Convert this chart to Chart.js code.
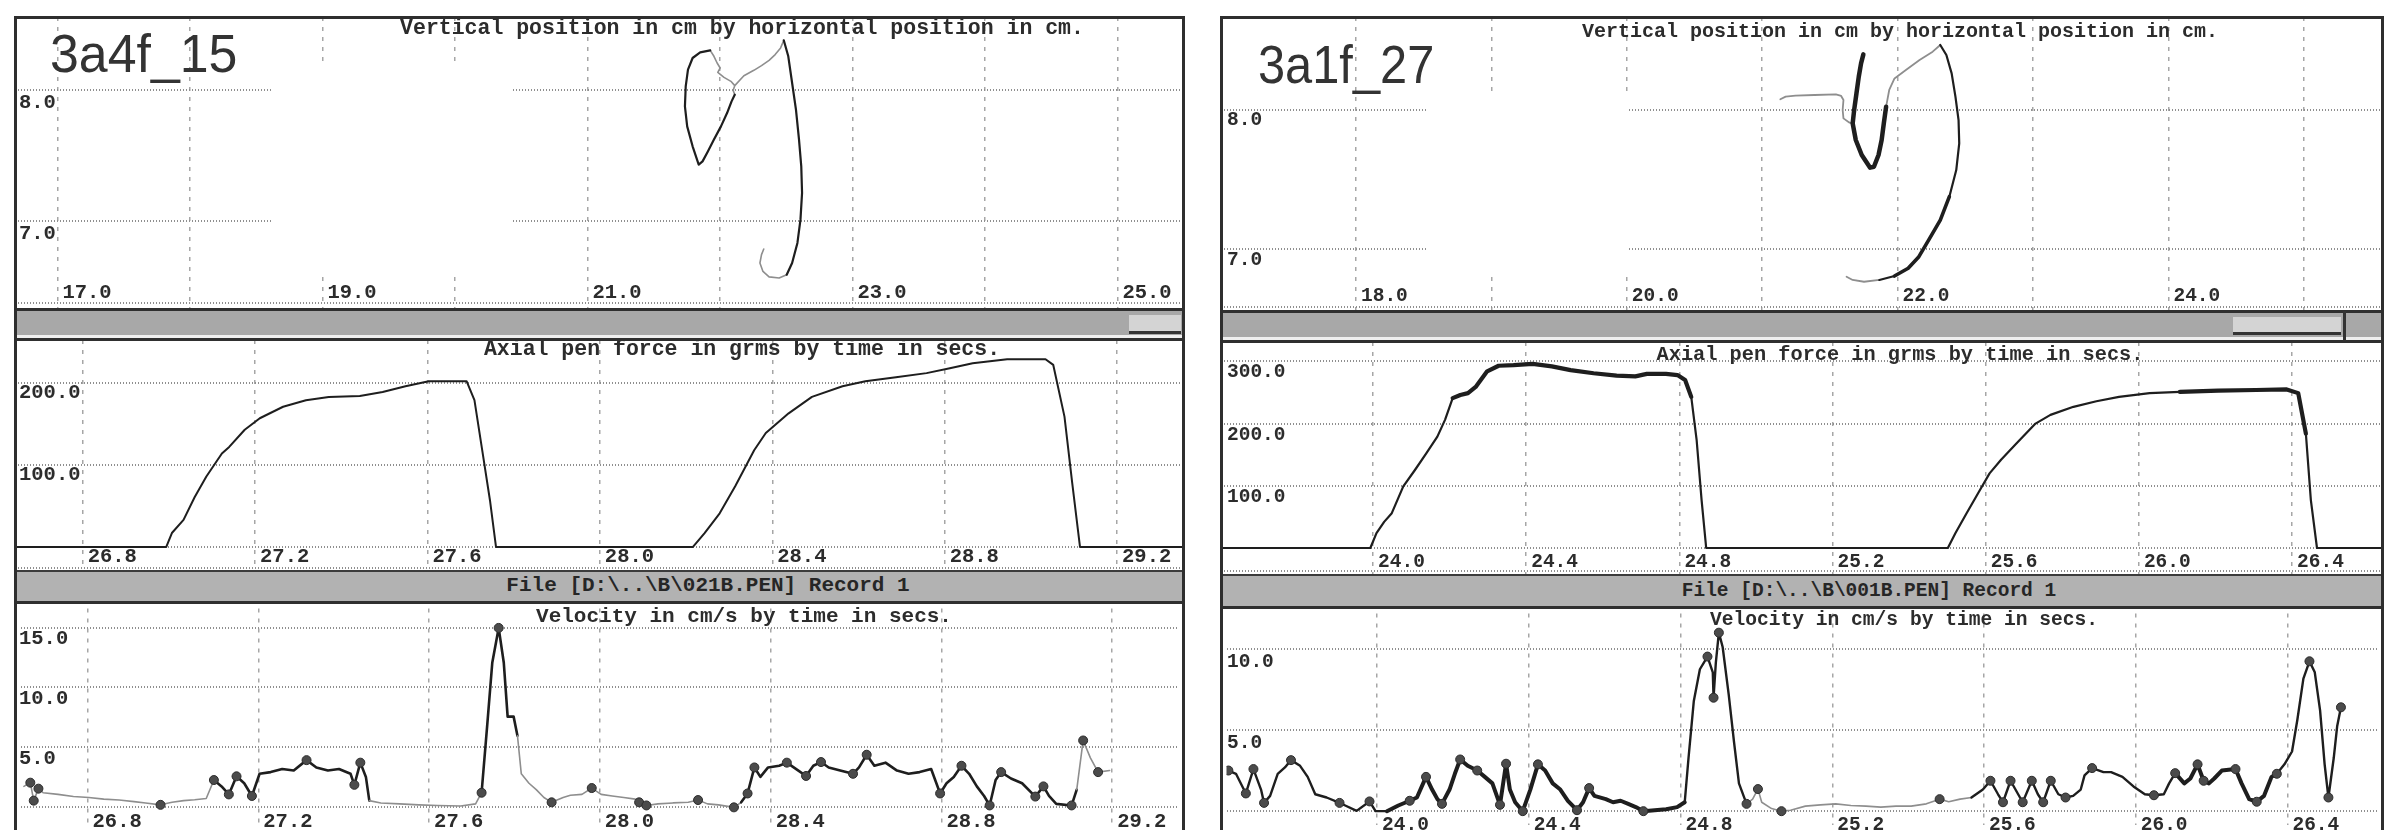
<!DOCTYPE html>
<html>
<head>
<meta charset="utf-8">
<title>Pen trace records 3a4f_15 / 3a1f_27</title>
<script src="https://cdn.jsdelivr.net/npm/chart.js@4.4.1/dist/chart.umd.min.js"></script>
<style>
  html, body { margin: 0; padding: 0; background: #fff; }
  body { position: relative; width: 2384px; height: 830px; overflow: hidden; }
  canvas, .frame, .band, .bar, .thumb, .stop { position: absolute; }
  .frame { box-sizing: border-box; border: 3px solid #2e2e2e; border-bottom: none; z-index: 4; }
  .band { box-sizing: border-box; background: #a8a8a8; border-top: 3px solid #2f2f2f; border-bottom: 3px solid #2f2f2f;
          box-shadow: inset 0 -3px 0 #efefef; z-index: 3; }
  .thumb { box-sizing: border-box; background: #d4d4d4; border-bottom: 3px solid #333; z-index: 3; }
  .stop { background: #333; width: 3px; z-index: 3; }
  .bar { box-sizing: border-box; background: #b2b2b2; border-top: 2px solid #3c3c3c; border-bottom: 3px solid #2f2f2f;
         color: #262626; font-weight: bold; font-family: "Liberation Mono", monospace; white-space: pre; z-index: 3; }
  .bar span { position: absolute; transform: translateX(-50%); }
</style>
</head>
<body>

<canvas id="posL" width="1168" height="292" style="left:15px;top:17px"></canvas>
<div class="band" style="left:14px;top:308px;width:1171px;height:33px"></div>
<div class="thumb" style="left:1129px;top:315px;width:52px;height:19px"></div>
<canvas id="forceL" width="1168" height="231" style="left:15px;top:340px"></canvas>
<div class="bar" style="left:14px;top:570px;width:1171px;height:34px;font-size:21px;line-height:28px"><span style="left:694px">File [D:\..\B\021B.PEN] Record 1</span></div>
<canvas id="velL" width="1168" height="227" style="left:15px;top:603px"></canvas>
<div class="frame" style="left:14px;top:16px;width:1171px;height:814px"></div>

<canvas id="posR" width="1163" height="294" style="left:1221px;top:17px"></canvas>
<div class="band" style="left:1220px;top:310px;width:1164px;height:33px"></div>
<div class="thumb" style="left:2233px;top:317px;width:108px;height:18px"></div>
<div class="stop" style="left:2343px;top:311px;height:30px"></div>
<canvas id="forceR" width="1163" height="232" style="left:1221px;top:342px"></canvas>
<div class="bar" style="left:1220px;top:574px;width:1164px;height:35px;font-size:19.5px;line-height:30px"><span style="left:649px">File [D:\..\B\001B.PEN] Record 1</span></div>
<canvas id="velR" width="1163" height="222" style="left:1221px;top:608px"></canvas>
<div class="frame" style="left:1220px;top:16px;width:1164px;height:814px"></div>

<script>
// ---- record 3a4f_15 (left) ----
// pen position, cm (null breaks a stroke)
const posInkXL = [21.927, 21.851, 21.794, 21.759, 21.742, 21.736, 21.753, 21.794, 21.840, 21.869, 21.909, 21.955, 22.008, 22.054, 22.088, 22.112,
                  null, 22.482, 22.516, 22.545, 22.574, 22.597, 22.614, 22.620, 22.608, 22.585, 22.545, 22.504];
const posInkYL = [8.305, 8.290, 8.247, 8.158, 8.031, 7.878, 7.725, 7.573, 7.433, 7.458, 7.534, 7.624, 7.725, 7.827, 7.916, 7.967,
                  null, 8.382, 8.260, 8.056, 7.853, 7.624, 7.420, 7.217, 7.013, 6.835, 6.682, 6.593];
const posAirXL = [21.927, 21.955, 21.979, 22.002, 21.984, 22.031, 22.083, 22.112, 22.100, 22.112,
                  null, 22.112, 22.181, 22.256, 22.314, 22.371, 22.417, 22.458, 22.482,
                  null, 22.504, 22.447, 22.371, 22.325, 22.302, 22.314, 22.331];
const posAirYL = [8.305, 8.260, 8.209, 8.171, 8.137, 8.099, 8.069, 8.036, 8.000, 7.967,
                  null, 8.036, 8.112, 8.153, 8.189, 8.229, 8.273, 8.324, 8.382,
                  null, 6.593, 6.568, 6.576, 6.618, 6.682, 6.746, 6.789];

// axial pen force, grams by seconds
const forceTL = [26.64, 26.994, 27.007, 27.034, 27.060, 27.087, 27.123, 27.140, 27.176, 27.211, 27.265, 27.318, 27.371, 27.443, 27.496,
                 27.549, 27.603, 27.691, 27.709, 27.727, 27.745, 27.759, 28.216, 28.243, 28.278, 28.314, 28.358, 28.385, 28.438, 28.492,
                 28.563, 28.616, 28.687, 28.758, 28.812, 28.865, 28.945, 29.034, 29.052, 29.078, 29.096, 29.114, 29.36];
const forceVL = [0, 0, 17, 33, 61, 86, 114, 122, 143, 157, 171, 179, 183, 184, 189,
                 196, 202, 202, 179, 118, 57, 0, 0, 17, 41, 74, 118, 139, 163, 183,
                 196, 202, 207, 212, 218, 224, 229, 229, 222, 159, 78, 0, 0];

// velocity, cm/s by seconds
const velTL = [26.651, 26.666, 26.674, 26.685, 26.696, 26.731, 26.767, 26.803, 26.838, 26.874,
               26.909, 26.936, 26.971, 26.998, 27.025, 27.051, 27.078, 27.096, 27.114, 27.131,
               27.149, 27.167, 27.185, 27.203, 27.229, 27.256, 27.283, 27.313, 27.336, 27.363,
               27.389, 27.416, 27.425, 27.439, 27.452, 27.460, 27.487, 27.531, 27.576, 27.620,
               27.674, 27.709, 27.723, 27.736, 27.748, 27.763, 27.775, 27.784, 27.798, 27.807,
               27.816, 27.834, 27.851, 27.869, 27.887, 27.914, 27.931, 27.958, 27.981, 28.003,
               28.029, 28.056, 28.083, 28.092, 28.109, 28.136, 28.171, 28.207, 28.230, 28.252,
               28.278, 28.314, 28.331, 28.346, 28.362, 28.376, 28.394, 28.420, 28.438, 28.465,
               28.483, 28.500, 28.518, 28.536, 28.563, 28.593, 28.607, 28.625, 28.643, 28.669,
               28.696, 28.723, 28.749, 28.776, 28.797, 28.812, 28.829, 28.847, 28.865, 28.883,
               28.900, 28.913, 28.927, 28.940, 28.963, 28.989, 29.020, 29.039, 29.052, 29.069,
               29.105, 29.117, 29.132, 29.149, 29.167, 29.194];
const velVL = [1.75, 2.06, 0.56, 1.56, 1.22, 1.08, 0.90, 0.82, 0.69, 0.61,
               0.48, 0.37, 0.21, 0.42, 0.56, 0.63, 0.74, 2.28, 1.75, 1.08,
               2.59, 2.01, 0.95, 2.80, 2.94, 3.20, 3.07, 3.94, 3.33, 3.07,
               3.20, 2.80, 1.88, 3.73, 2.54, 0.56, 0.37, 0.29, 0.21, 0.16,
               0.11, 0.29, 1.22, 6.77, 12.06, 14.97, 12.06, 7.57, 7.57, 5.98,
               2.80, 2.01, 1.48, 0.82, 0.42, 0.82, 1.01, 1.08, 1.61, 1.08,
               0.95, 0.82, 0.69, 0.42, 0.16, 0.29, 0.37, 0.42, 0.61, 0.29,
               0.21, 0.00, 0.42, 1.16, 3.33, 2.54, 3.33, 3.47, 3.73, 3.07,
               2.62, 3.47, 3.78, 3.33, 3.07, 2.80, 3.33, 4.39, 3.47, 3.73,
               3.07, 2.80, 2.94, 3.20, 1.16, 2.01, 2.54, 3.47, 2.80, 1.75,
               0.95, 0.16, 2.28, 2.94, 2.41, 2.01, 0.90, 1.75, 0.95, 0.29,
               0.16, 1.48, 5.58, 4.13, 2.94, 3.07];
// velocity samples marked with a dot
const velMarkTL = [26.666, 26.674, 26.685, 26.971, 27.096, 27.131, 27.149, 27.185, 27.313, 27.425, 27.439, 27.723,
                   27.763, 27.887, 27.981, 28.092, 28.109, 28.230, 28.314, 28.346, 28.362, 28.438, 28.483, 28.518,
                   28.593, 28.625, 28.797, 28.847, 28.913, 28.940, 29.020, 29.039, 29.105, 29.132, 29.167];
const velMarkVL = [2.06, 0.56, 1.56, 0.21, 2.28, 1.08, 2.59, 0.95, 3.94, 1.88, 3.73, 1.22,
                   14.97, 0.42, 1.61, 0.42, 0.16, 0.61, 0.00, 1.16, 3.33, 3.73, 2.62, 3.78,
                   2.80, 4.39, 1.16, 3.47, 0.16, 2.94, 0.90, 1.75, 0.16, 5.58, 2.94];

// ---- record 3a1f_27 (right) ----
const posBoldXR = [21.747, 21.730, 21.713, 21.696, 21.679, 21.668, 21.691, 21.735, 21.797, 21.825, 21.859, 21.882, 21.898, 21.915];
const posBoldYR = [8.400, 8.335, 8.239, 8.120, 8.000, 7.904, 7.785, 7.677, 7.586, 7.593, 7.677, 7.785, 7.904, 8.024];
const posInkXR = [22.315, 22.360, 22.399, 22.427, 22.450, 22.455, 22.433, 22.382, 22.315, 22.230, 22.157, 22.078, 21.977, 21.865];
const posInkYR = [8.467, 8.395, 8.263, 8.096, 7.928, 7.761, 7.569, 7.378, 7.210, 7.067, 6.947, 6.864, 6.808, 6.780];
const posAirXR = [21.134, 21.173, 21.246, 21.386, 21.544, 21.583, 21.600, 21.594, 21.600, 21.645, 21.668,
                  null, 21.915, 21.938, 21.977, 22.061, 22.162, 22.259, 22.315,
                  null, 21.865, 21.752, 21.668, 21.623];
const posAirYR = [8.077, 8.096, 8.103, 8.108, 8.113, 8.101, 8.072, 8.000, 7.940, 7.909, 7.904,
                  null, 8.024, 8.144, 8.227, 8.287, 8.359, 8.419, 8.467,
                  null, 6.780, 6.767, 6.780, 6.803];

const forceTR = [23.60, 23.993, 24.009, 24.029, 24.049, 24.079, 24.109, 24.139, 24.168, 24.188,
                 24.208, 24.228, 24.248, 24.268, 24.298, 24.328, 24.367, 24.417, 24.467, 24.516,
                 24.576, 24.636, 24.685, 24.715, 24.765, 24.795, 24.815, 24.831, 24.845, 24.858,
                 24.870, 25.501, 25.521, 25.550, 25.580, 25.610, 25.640, 25.680, 25.730, 25.769,
                 25.829, 25.889, 25.948, 26.028, 26.107, 26.207, 26.306, 26.386, 26.416, 26.436,
                 26.449, 26.465, 26.65];
const forceVR = [0, 0, 24, 42, 56, 99, 125, 152, 179, 206,
                 241, 246, 249, 259, 284, 293, 294, 296, 292, 286,
                 281, 277, 276, 280, 280, 278, 270, 243, 174, 77,
                 0, 0, 24, 56, 88, 120, 142, 168, 200, 214,
                 227, 236, 243, 249, 251, 253, 254, 255, 249, 184,
                 77, 0, 0];

const velTR = [23.608, 23.628, 23.654, 23.674, 23.694, 23.702, 23.718, 23.738, 23.757, 23.773,
               23.797, 23.817, 23.837, 23.867, 23.901, 23.916, 23.946, 23.980, 23.996, 24.026,
               24.056, 24.086, 24.105, 24.129, 24.145, 24.159, 24.171, 24.191, 24.205, 24.219,
               24.239, 24.264, 24.284, 24.304, 24.324, 24.340, 24.350, 24.364, 24.384, 24.404,
               24.424, 24.443, 24.463, 24.483, 24.503, 24.527, 24.543, 24.559, 24.573, 24.603,
               24.622, 24.642, 24.662, 24.682, 24.702, 24.732, 24.762, 24.791, 24.811, 24.821,
               24.835, 24.851, 24.871, 24.885, 24.887, 24.893, 24.901, 24.911, 24.927, 24.941,
               24.954, 24.974, 24.990, 25.004, 25.014, 25.040, 25.066, 25.090, 25.129, 25.169,
               25.209, 25.249, 25.289, 25.328, 25.368, 25.408, 25.448, 25.483, 25.507, 25.537,
               25.567, 25.597, 25.617, 25.637, 25.650, 25.670, 25.690, 25.702, 25.726, 25.742,
               25.756, 25.776, 25.796, 25.815, 25.835, 25.855, 25.865, 25.885, 25.915, 25.935,
               25.965, 25.994, 26.024, 26.048, 26.074, 26.088, 26.104, 26.128, 26.144, 26.163,
               26.179, 26.193, 26.207, 26.227, 26.263, 26.279, 26.299, 26.319, 26.338, 26.358,
               26.372, 26.392, 26.412, 26.426, 26.442, 26.458, 26.472, 26.486, 26.498, 26.508,
               26.522, 26.531, 26.541];
const velVR = [2.50, 2.30, 1.09, 2.59, 1.33, 0.51, 0.94, 2.30, 2.69, 3.14,
               2.79, 2.11, 1.04, 0.84, 0.51, 0.35, 0.02, 0.60, 0.00, 0.00,
               0.35, 0.64, 0.84, 2.11, 1.33, 0.74, 0.45, 1.33, 2.30, 3.18,
               2.79, 2.50, 2.11, 1.71, 0.39, 2.92, 1.33, 0.55, 0.00, 1.33,
               2.88, 2.50, 1.71, 1.33, 0.64, 0.06, 0.55, 1.42, 0.94, 0.74,
               0.55, 0.64, 0.45, 0.25, 0.00, 0.06, 0.12, 0.25, 0.55, 3.27,
               6.78, 8.73, 9.51, 8.54, 6.98, 9.12, 10.98, 10.10, 7.17, 4.25,
               1.71, 0.45, 0.74, 1.36, 0.55, 0.16, 0.00, 0.06, 0.31, 0.39,
               0.45, 0.35, 0.31, 0.25, 0.31, 0.31, 0.45, 0.74, 0.58, 0.74,
               0.84, 1.33, 1.87, 1.04, 0.55, 1.87, 1.04, 0.55, 1.87, 1.04,
               0.55, 1.87, 1.04, 0.84, 0.94, 1.33, 2.20, 2.65, 2.40, 2.40,
               2.11, 1.52, 1.04, 0.98, 1.04, 1.71, 2.34, 1.71, 2.01, 2.88,
               1.87, 1.71, 2.01, 2.50, 2.59, 1.71, 0.74, 0.58, 0.94, 2.11,
               2.30, 2.88, 3.67, 5.61, 8.15, 9.22, 8.54, 6.20, 2.88, 0.84,
               3.27, 5.22, 6.39];
const velMarkTR = [23.608, 23.654, 23.674, 23.702, 23.773, 23.901, 23.980, 24.086, 24.129, 24.171, 24.219, 24.264,
                   24.324, 24.340, 24.384, 24.424, 24.527, 24.559, 24.702, 24.871, 24.887, 24.901, 24.974, 25.004,
                   25.066, 25.483, 25.617, 25.650, 25.670, 25.702, 25.726, 25.756, 25.776, 25.815, 25.885, 26.048,
                   26.104, 26.163, 26.179, 26.263, 26.319, 26.372, 26.458, 26.508, 26.541];
const velMarkVR = [2.50, 1.09, 2.59, 0.51, 3.14, 0.51, 0.60, 0.64, 2.11, 0.45, 3.18, 2.50,
                   0.39, 2.92, 0.00, 2.88, 0.06, 1.42, 0.00, 9.51, 6.98, 10.98, 0.45, 1.36,
                   0.00, 0.74, 1.87, 0.55, 1.87, 0.55, 1.87, 0.55, 1.87, 0.84, 2.65, 0.98,
                   2.34, 2.88, 1.87, 2.59, 0.58, 2.30, 9.22, 0.84, 6.39];

// grid and tick labels
const posGridXL = [17, 18, 19, 20, 21, 22, 23, 24, 25];
const posLabelXL = [17, 19, 21, 23, 25];
const posGridXR = [18, 19, 20, 21, 22, 23, 24, 25];
const posLabelXR = [18, 20, 22, 24];
const posGridY = [7, 8];
const timeGridL = [26.8, 27.2, 27.6, 28.0, 28.4, 28.8, 29.2];
const timeGridR = [24.0, 24.4, 24.8, 25.2, 25.6, 26.0, 26.4];
const forceGridL = [0, 100, 200];
const forceLabelL = [100, 200];
const forceGridR = [0, 100, 200, 300];
const forceLabelR = [100, 200, 300];
const velGridL = [0, 5, 10, 15];
const velLabelL = [5, 10, 15];
const velGridR = [0, 5, 10];
const velLabelR = [5, 10];

const POS_TITLE = 'Vertical position in cm by horizontal position in cm.';
const FORCE_TITLE = 'Axial pen force in grms by time in secs.';
const VEL_TITLE = 'Velocity in cm/s by time in secs.';

const INK = '#1e1e1e';
const AIR = '#8e8e8e';
const VGRID = { color: '#a6a6a6', width: 1.5, dash: [4, 6] };
const HGRID = { color: '#8f8f8f', width: 2, dash: [1, 2] };

function pts(xs, ys) {
    return xs.map((x, i) => ({ x: x, y: ys[i] }));
}

function inRanges(v, ranges) {
    return ranges.some(r => v >= r[0] && v < r[1]);
}

function line(xs, ys, color, width, extra) {
    return Object.assign({
        data: pts(xs, ys),
        showLine: true,
        borderColor: color,
        borderWidth: width,
        pointRadius: 0,
        tension: 0,
        spanGaps: false,
        borderJoinStyle: 'round',
        borderCapStyle: 'round'
    }, extra || {});
}

function marks(xs, ys) {
    return {
        data: pts(xs, ys),
        showLine: false,
        pointRadius: 4.5,
        pointBackgroundColor: '#4b4b4b',
        pointBorderColor: '#2b2b2b',
        pointBorderWidth: 1
    };
}

function axis(min, max, grid, look) {
    return {
        type: 'linear',
        min: min,
        max: max,
        afterBuildTicks: scale => { scale.ticks = grid.map(v => ({ value: v })); },
        ticks: { display: false },
        grid: { color: look.color, lineWidth: look.width, drawTicks: false },
        border: { display: false, dash: look.dash }
    };
}

// titles, tick labels and record name, placed with the chart's own scales
function textLayer(spec) {
    return {
        id: 'textLayer',
        beforeDatasetsDraw(chart) {
            const { ctx, chartArea: a } = chart;
            ctx.save();
            if (spec.mask) {
                ctx.fillStyle = '#fff';
                ctx.fillRect(spec.mask[0], spec.mask[1], spec.mask[2], spec.mask[3]);
            }
            if (spec.edge) {
                ctx.strokeStyle = HGRID.color;
                ctx.lineWidth = 2;
                ctx.setLineDash([1, 2]);
                ctx.beginPath();
                ctx.moveTo(a.left, a.bottom - spec.edge);
                ctx.lineTo(a.right, a.bottom - spec.edge);
                ctx.stroke();
            }
            ctx.restore();
        },
        afterDraw(chart) {
            const { ctx, scales: { x, y } } = chart;
            ctx.save();
            ctx.fillStyle = '#2c2c2c';
            ctx.textBaseline = 'middle';
            ctx.textAlign = 'center';
            ctx.font = 'bold ' + spec.titleSize + 'px "Liberation Mono", monospace';
            ctx.fillText(spec.title, spec.titleX, spec.titleY);

            ctx.textAlign = 'left';
            ctx.font = 'bold ' + spec.tickSize + 'px "Liberation Mono", monospace';
            spec.xLabels.forEach(v => ctx.fillText(v.toFixed(1), x.getPixelForValue(v) + 5, spec.xLabelY));
            spec.yLabels.forEach(v => ctx.fillText(v.toFixed(1), spec.yLabelX, y.getPixelForValue(v) + spec.yLabelDy));

            if (spec.name) {
                ctx.textBaseline = 'alphabetic';
                ctx.fillStyle = '#333';
                ctx.font = spec.nameSize + 'px "Liberation Sans", Arial, sans-serif';
                ctx.translate(spec.nameX, spec.nameY);
                ctx.scale(spec.nameStretch, 1);
                ctx.fillText(spec.name, 0, 0);
            }
            ctx.restore();
        }
    };
}

function drawChart(id, spec) {
    return new Chart(document.getElementById(id), {
        type: 'scatter',
        data: { datasets: spec.datasets },
        options: {
            responsive: false,
            animation: false,
            events: [],
            layout: { padding: 0 },
            plugins: { legend: { display: false }, tooltip: { enabled: false } },
            scales: {
                x: axis(spec.x[0], spec.x[1], spec.xGrid, VGRID),
                y: axis(spec.y[0], spec.y[1], spec.yGrid, HGRID)
            }
        },
        plugins: [textLayer(spec)]
    });
}

// ---- left panel ----
drawChart('posL', {
    x: [16.68, 25.495], y: [6.331, 8.56],
    xGrid: posGridXL, yGrid: posGridY,
    datasets: [
        line(posInkXL, posInkYL, INK, 2.2),
        line(posAirXL, posAirYL, AIR, 1.6)
    ],
    title: POS_TITLE, titleSize: 21.5, titleX: 727, titleY: 12,
    tickSize: 20.5, xLabels: posLabelXL, xLabelY: 276,
    yLabels: posGridY, yLabelX: 4, yLabelDy: 12,
    name: '3a4f_15', nameSize: 54, nameX: 35, nameY: 55, nameStretch: 0.96,
    mask: [258, 47, 240, 209], edge: 6
});

drawChart('forceL', {
    x: [26.643, 29.353], y: [-29.3, 252.4],
    xGrid: timeGridL, yGrid: forceGridL,
    datasets: [line(forceTL, forceVL, INK, 2)],
    title: FORCE_TITLE, titleSize: 21.5, titleX: 727, titleY: 10,
    tickSize: 20.5, xLabels: timeGridL, xLabelY: 217,
    yLabels: forceLabelL, yLabelX: 4, yLabelDy: 10, edge: 3
});

const velBoldL = [[27.09, 27.46], [27.72, 27.80], [28.33, 29.11]];
drawChart('velL', {
    x: [26.643, 29.353], y: [-1.43, 16.59],
    xGrid: timeGridL, yGrid: velGridL,
    datasets: [
        marks(velMarkTL, velMarkVL),
        line(velTL, velVL, INK, 2, {
            segment: {
                borderColor: c => inRanges(c.p0.parsed.x, velBoldL) ? INK : AIR,
                borderWidth: c => inRanges(c.p0.parsed.x, velBoldL) ? 2.6 : 1.6
            }
        })
    ],
    title: VEL_TITLE, titleSize: 21, titleX: 729, titleY: 14,
    tickSize: 20.5, xLabels: timeGridL, xLabelY: 219,
    yLabels: velLabelL, yLabelX: 4, yLabelDy: 11
});

// ---- right panel ----
drawChart('posR', {
    x: [17.003, 25.592], y: [6.557, 8.668],
    xGrid: posGridXR, yGrid: posGridY,
    datasets: [
        line(posBoldXR, posBoldYR, INK, 4.5),
        line(posInkXR, posInkYR, INK, 2.4, {
            segment: { borderWidth: c => (c.p0.parsed.y < 7.45 && c.p0.parsed.y > 6.84) ? 3.6 : 2.2 }
        }),
        line(posAirXR, posAirYR, AIR, 1.8)
    ],
    title: POS_TITLE, titleSize: 20, titleX: 679, titleY: 15,
    tickSize: 19.5, xLabels: posLabelXR, xLabelY: 279,
    yLabels: posGridY, yLabelX: 6, yLabelDy: 10.5,
    name: '3a1f_27', nameSize: 53, nameX: 37, nameY: 66, nameStretch: 0.92,
    mask: [207, 79, 201, 176], edge: 4
});

const forceHeavyR = [[24.2, 24.82], [26.1, 26.42]];
drawChart('forceR', {
    x: [23.603, 26.640], y: [-41.8, 331.2],
    xGrid: timeGridR, yGrid: forceGridR,
    datasets: [line(forceTR, forceVR, INK, 2.2, {
        segment: { borderWidth: c => inRanges(c.p0.parsed.x, forceHeavyR) ? 4.2 : 2.2 }
    })],
    title: FORCE_TITLE, titleSize: 20.3, titleX: 679, titleY: 13,
    tickSize: 19.5, xLabels: timeGridR, xLabelY: 220,
    yLabels: forceLabelR, yLabelX: 6, yLabelDy: 11, edge: 3
});

const velHeavyR = [[24.0, 24.81], [26.1, 26.36]];
const velMidR = [[23.6, 24.0], [24.81, 24.97], [25.55, 26.1], [26.36, 26.56]];
drawChart('velR', {
    x: [23.603, 26.640], y: [-0.82, 12.16],
    xGrid: timeGridR, yGrid: velGridR,
    datasets: [
        marks(velMarkTR, velMarkVR),
        line(velTR, velVR, INK, 2, {
            segment: {
                borderColor: c => {
                    const t = c.p0.parsed.x;
                    return (inRanges(t, velHeavyR) || inRanges(t, velMidR)) ? INK : AIR;
                },
                borderWidth: c => {
                    const t = c.p0.parsed.x;
                    if (inRanges(t, velHeavyR)) return 4;
                    return inRanges(t, velMidR) ? 2.4 : 1.6;
                }
            }
        })
    ],
    title: VEL_TITLE, titleSize: 19.6, titleX: 683, titleY: 12,
    tickSize: 19.5, xLabels: timeGridR, xLabelY: 217,
    yLabels: velLabelR, yLabelX: 6, yLabelDy: 13
});
</script>
</body>
</html>
